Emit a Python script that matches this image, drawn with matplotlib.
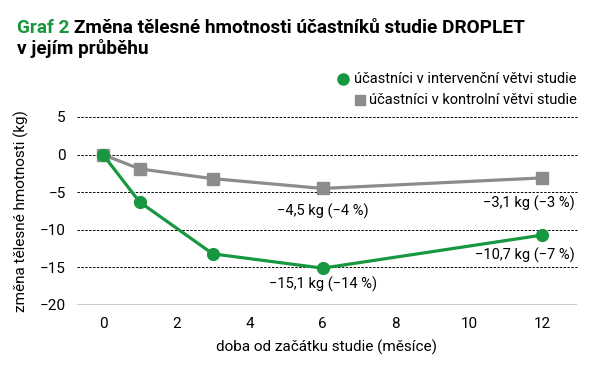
import matplotlib
matplotlib.use('Agg')
import matplotlib.pyplot as plt

months = [0, 1, 3, 6, 12]
interv = [0, -6.3, -13.2, -15.1, -10.7]
control = [0, -1.9, -3.2, -4.5, -3.1]
xticks = [0, 2, 4, 6, 8, 10, 12]
yticks = [5, 0, -5, -10, -15, -20]
ytick_labels = ['5', '0', '\u22125', '\u221210', '\u221215', '\u221220']

green = '#17973f'
gray = '#8c8c8c'

plt.rcParams['font.family'] = ['Roboto', 'DejaVu Sans']

fig = plt.figure(figsize=(5.97, 3.67), dpi=100)
ax = fig.add_axes([77 / 597, 1 - 305 / 367, 500 / 597, 188 / 367])

for y in yticks[:-1]:
    ax.axhline(y, color='black', lw=0.7, ls=(0, (2.5, 1.5)), zorder=1, clip_on=False)
ax.axhline(-20, color='black', lw=1.0, zorder=1)

ax.plot(months, control, color=gray, lw=2.3, marker='s', ms=8.5, zorder=3, clip_on=False)
ax.plot(months, interv, color=green, lw=2.3, marker='o', ms=8.5, zorder=4, clip_on=False)

ax.set_xlim(-0.71, 12.95)
ax.set_ylim(-20, 5)
ax.set_xticks(xticks)
ax.set_yticks(yticks)
ax.set_yticklabels(ytick_labels)
ax.tick_params(length=0, labelsize=11, pad=9)
ax.tick_params(axis='y', pad=8)
for s in ax.spines.values():
    s.set_visible(False)

ax.set_xlabel('doba od začátku studie (měsíce)', fontsize=11, labelpad=6)
ax.set_ylabel('změna tělesné hmotnosti (kg)', fontsize=11, labelpad=8)

fs = 10.5
ax.text(6, -7.5, '\u22124,5 kg (\u22124 %)', ha='center', va='center', fontsize=fs)
ax.text(12.9, -6.5, '\u22123,1 kg (\u22123 %)', ha='right', va='center', fontsize=fs)
ax.text(12.9, -13.4, '\u221210,7 kg (\u22127 %)', ha='right', va='center', fontsize=fs)
ax.text(6, -17.3, '\u221215,1 kg (\u221214 %)', ha='center', va='center', fontsize=fs)

# title
tfs = 13.7
t1 = fig.text(17 / 597, 1 - 28 / 367, 'Graf 2 ', color=green, fontsize=tfs, fontweight='bold', va='center')
fig.canvas.draw()
bb = t1.get_window_extent()
fig.text(bb.x1 / 597, 1 - 28 / 367, 'Změna tělesné hmotnosti účastníků studie DROPLET',
         color='black', fontsize=tfs, fontweight='bold', va='center')
fig.text(17 / 597, 1 - 49 / 367, 'v jejím průběhu', color='black', fontsize=tfs,
         fontweight='bold', va='center')

# legend
fig.text(577 / 597, 1 - 79 / 367, 'účastníci v intervenční větvi studie', ha='right', va='center', fontsize=10.5)
fig.text(577 / 597, 1 - 100 / 367, 'účastníci v kontrolní větvi studie', ha='right', va='center', fontsize=10.5)
fig.lines.append(plt.Line2D([343 / 597], [1 - 79 / 367], marker='o', ms=8, color=green,
                            transform=fig.transFigure, ls='none'))
fig.lines.append(plt.Line2D([360 / 597], [1 - 100 / 367], marker='s', ms=7.5, color=gray,
                            transform=fig.transFigure, ls='none'))

fig.savefig('out.png', dpi=100)
